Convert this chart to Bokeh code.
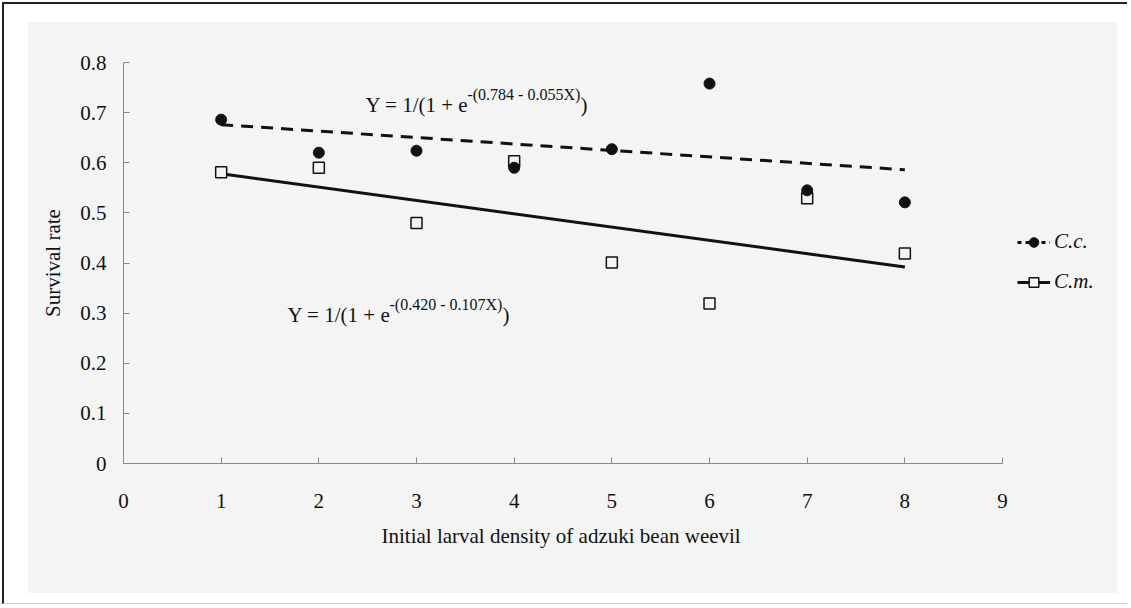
from bokeh.plotting import figure
from bokeh.models import Range1d, FixedTicker, Legend, LegendItem, Title
from bokeh.core.properties import value
from bokeh.embed import file_html
from bokeh.resources import INLINE

# ---- data ----
density = [1, 2, 3, 4, 5, 6, 7, 8]
cc_rate = [0.686, 0.620, 0.624, 0.590, 0.627, 0.758, 0.545, 0.521]
cm_rate = [0.581, 0.590, 0.480, 0.603, 0.401, 0.319, 0.529, 0.419]

fit_x = [1, 8]
cc_fit = [0.676, 0.586]
cm_fit = [0.578, 0.392]

x_ticks = [0, 1, 2, 3, 4, 5, 6, 7, 8, 9]
y_ticks = [0, 0.1, 0.2, 0.3, 0.4, 0.5, 0.6, 0.7, 0.8]
y_tick_labels = ["0", "0.1", "0.2", "0.3", "0.4", "0.5", "0.6", "0.7", "0.8"]

series_names = ["C.c.", "C.m."]
eq_main = ["Y = 1/(1 + e", "Y = 1/(1 + e"]
eq_sup = ["-(0.784 - 0.055X)", "-(0.420 - 0.107X)"]
eq_close = [")", ")"]
eq_x = [2.477, 1.679]
eq_y = [0.7146, 0.2954]

x_title = "Initial larval density of adzuki bean weevil"
y_title = "Survival rate"

FONT = "Liberation Serif"
INK = "#111111"
BG = "#f4f4f4"
SOLID = "2000 1"   # effectively solid, but resets any dash state in the SVG legend

# frame extends right of x=9 so the legend (drawn inside the frame) is not clipped;
# the visible x axis is bounded to 0..9
p = figure(width=1125, height=602,
           x_range=Range1d(0, 10.3), y_range=Range1d(0, 0.8),
           output_backend="svg", toolbar_location=None,
           min_border_left=119, min_border_right=0,
           min_border_top=58, min_border_bottom=143)
p.styles = {
    "margin-left": "2px", "margin-top": "2px",
    "border-left": "2px solid #222", "border-top": "2px solid #222",
    "border-bottom": "1px solid #cccccc",
    "background-color": "#ffffff",
    "background-image": "linear-gradient(%s, %s)" % (BG, BG),
    "background-size": "1089px 571px",
    "background-position": "24px 18px",
    "background-repeat": "no-repeat",
}
p.background_fill_alpha = 0
p.border_fill_alpha = 0
p.outline_line_color = None
p.xgrid.visible = False
p.ygrid.visible = False

for ax in (p.xaxis[0], p.yaxis[0]):
    ax.axis_line_color = "#8a8a8a"
    ax.axis_line_width = 1
    ax.major_tick_line_color = "#8a8a8a"
    ax.major_tick_in = 6
    ax.major_tick_out = 0
    ax.minor_tick_line_color = None
    ax.major_label_text_font = FONT
    ax.major_label_text_font_size = "21px"
    ax.major_label_text_color = INK
    ax.axis_label_text_font = FONT
    ax.axis_label_text_font_size = "21px"
    ax.axis_label_text_font_style = "normal"
    ax.axis_label_text_color = INK

p.xaxis.bounds = (0, 9)
p.xaxis.ticker = FixedTicker(ticks=x_ticks)
p.yaxis.ticker = FixedTicker(ticks=y_ticks)
p.yaxis.major_label_overrides = {t: l for t, l in zip(y_ticks, y_tick_labels)}
p.xaxis.major_label_standoff = 30
p.yaxis.major_label_standoff = 17
p.yaxis.axis_label = y_title
p.yaxis.axis_label_standoff = 12

xt = Title(text=x_title, align="left", offset=258, standoff=22,
           text_font=FONT, text_font_size="21px", text_font_style="normal",
           text_color=INK)
p.add_layout(xt, "below")

cc_line = p.line(fit_x, cc_fit, line_color=INK, line_width=3, line_dash="12 8")
cm_line = p.line(fit_x, cm_fit, line_color=INK, line_width=3, line_dash=SOLID)
cm_pts = p.scatter(density, cm_rate, marker="square", size=11,
                   fill_color=BG, line_color=INK, line_width=1.5)
cc_pts = p.scatter(density, cc_rate, marker="circle", size=11,
                   fill_color=INK, line_color=INK)

# legend-only key for C.c. (short dashes, as in the reference key);
# a single point draws nothing on the plot itself
cc_key = p.line(x=fit_x[:1], y=cc_fit[:1], line_color=INK, line_width=3,
                line_dash="4 4")

p.text(x=eq_x, y=eq_y, text=eq_main, text_font=value(FONT),
       text_font_size="21px", text_color=INK, text_baseline="alphabetic")
p.text(x=eq_x, y=eq_y, text=eq_sup, text_font=value(FONT),
       text_font_size="16px", text_color=INK, text_baseline="alphabetic",
       x_offset=102, y_offset=-11)
p.text(x=eq_x, y=eq_y, text=eq_close, text_font=value(FONT),
       text_font_size="21px", text_color=INK, text_baseline="alphabetic",
       x_offset=215)

legend = Legend(items=[LegendItem(label=series_names[0], renderers=[cc_key, cc_pts]),
                       LegendItem(label=series_names[1], renderers=[cm_line, cm_pts])],
                location=(894, 169))
legend.padding = 0
legend.margin = 0
legend.border_line_color = None
legend.background_fill_alpha = 0
legend.glyph_width = 33
legend.glyph_height = 24
legend.spacing = 15
legend.label_standoff = 4
legend.label_text_font = FONT
legend.label_text_font_size = "21px"
legend.label_text_font_style = "italic"
legend.label_text_color = INK
p.add_layout(legend)

open("out.html", "w").write(file_html(p, INLINE))
